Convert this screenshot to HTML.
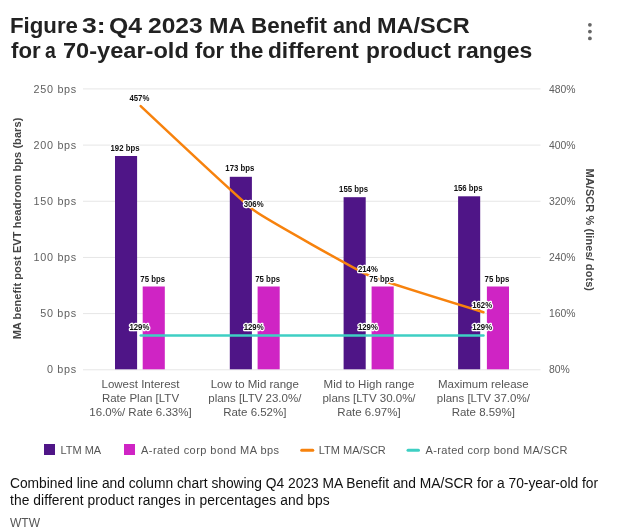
<!DOCTYPE html>
<html><head><meta charset="utf-8">
<style>
html,body{margin:0;padding:0;background:#fff;}
body{width:624px;height:529px;position:relative;overflow:hidden;font-family:"Liberation Sans",sans-serif;}
.title{position:absolute;left:0;top:0;font-weight:bold;font-size:22px;line-height:25px;color:#222;white-space:nowrap}
.title span{position:absolute;display:block;transform-origin:0 0;white-space:pre}
.cap{position:absolute;left:10px;top:475px;font-size:13.8px;line-height:17px;color:#111;white-space:nowrap}
.src{position:absolute;left:10px;top:514.5px;font-size:12px;line-height:16px;color:#555}
svg{position:absolute;left:0;top:0}
svg text{font-family:"Liberation Sans",sans-serif}
.yl{font-size:10.8px;fill:#606060;letter-spacing:0.7px}
.yr{font-size:10.4px;fill:#606060}
.xl{font-size:11.5px;fill:#555}
.dl{font-size:8.5px;font-weight:bold;fill:#111;stroke:#fff;stroke-width:2.6px;paint-order:stroke;stroke-linejoin:round}
.at{font-size:11px;font-weight:bold;fill:#444;letter-spacing:0.07px}
.lg{font-size:11px;fill:#555}
</style></head><body>
<div class="title"><span style="left:9.99px;top:13.1px;transform:scaleX(1.011)">Figure </span><span style="left:82.09px;top:13.1px;transform:scaleX(1.206)">3: </span><span style="left:109.17px;top:13.1px;transform:scaleX(1.125)">Q4 </span><span style="left:147.88px;top:13.1px;transform:scaleX(1.117)">2023 </span><span style="left:209.44px;top:13.1px;transform:scaleX(1.059)">MA </span><span style="left:250.98px;top:13.1px;transform:scaleX(1.019)">Benefit </span><span style="left:333.12px;top:13.1px;transform:scaleX(0.984)">and </span><span style="left:376.93px;top:13.1px;transform:scaleX(1.067)">MA/SCR </span><span style="left:11.00px;top:38.0px;transform:scaleX(1.010)">for </span><span style="left:45.32px;top:38.0px;transform:scaleX(0.882)">a </span><span style="left:63.03px;top:38.0px;transform:scaleX(1.072)">70-year-old </span><span style="left:194.60px;top:38.0px;transform:scaleX(0.990)">for </span><span style="left:229.70px;top:38.0px;transform:scaleX(1.009)">the </span><span style="left:268.17px;top:38.0px;transform:scaleX(1.032)">different </span><span style="left:365.67px;top:38.0px;transform:scaleX(1.035)">product </span><span style="left:457.16px;top:38.0px;transform:scaleX(1.044)">ranges</span></div>
<svg width="624" height="529" viewBox="0 0 624 529">
<g fill="#666"><circle cx="589.9" cy="24.8" r="1.9"/><circle cx="589.9" cy="31.6" r="1.9"/><circle cx="589.9" cy="38.4" r="1.9"/></g>
<path stroke="#e6e6e6" stroke-width="1" fill="none" d="M83 369.80H540.5M83 313.62H540.5M83 257.44H540.5M83 201.26H540.5M83 145.08H540.5M83 88.90H540.5"/>
<g class="yl" text-anchor="end">
<text x="76.9" y="373.4">0 bps</text>
<text x="76.9" y="317.2">50 bps</text>
<text x="76.9" y="261.0">100 bps</text>
<text x="76.9" y="204.9">150 bps</text>
<text x="76.9" y="148.7">200 bps</text>
<text x="76.9" y="92.5">250 bps</text>
</g><g class="yr">
<text x="549" y="373.4">80%</text>
<text x="549" y="317.2">160%</text>
<text x="549" y="261.0">240%</text>
<text x="549" y="204.9">320%</text>
<text x="549" y="148.7">400%</text>
<text x="549" y="92.5">480%</text>
</g>
<text class="at" text-anchor="middle" transform="translate(21,228.5) rotate(-90)">MA benefit post EVT headroom bps (bars)</text>
<text class="at" text-anchor="middle" transform="translate(586.4,229.8) rotate(90)">MA/SCR % (lines/ dots)</text>
<g fill="#4f1587">
<rect x="115.0" y="156.0" width="22.1" height="213.3"/>
<rect x="229.8" y="176.8" width="22.1" height="192.5"/>
<rect x="343.6" y="197.2" width="22.1" height="172.1"/>
<rect x="458.1" y="196.3" width="22.1" height="173.0"/>
</g><g fill="#cf24c4">
<rect x="142.7" y="286.5" width="22.1" height="82.8"/>
<rect x="257.6" y="286.5" width="22.1" height="82.8"/>
<rect x="371.6" y="286.5" width="22.1" height="82.8"/>
<rect x="486.9" y="286.5" width="22.1" height="82.8"/>
</g>
<path d="M140.72 106.05C140.72 106.05 242.51 201.84 254.97 211.09C265.51 218.92 357.22 270.39 369.23 275.70C380.19 280.55 483.48 312.22 483.48 312.22" fill="none" stroke="#f7820d" stroke-width="2.5" stroke-linecap="round" stroke-linejoin="round"/>
<path d="M140.72 335.39H483.48" fill="none" stroke="#3ecfc3" stroke-width="2.5" stroke-linecap="round"/>
<g class="dl" text-anchor="middle" transform="scale(0.92,1)">
<text x="151.5" y="100.6">457%</text>
<text x="275.7" y="207.0">306%</text>
<text x="399.9" y="272.2">214%</text>
<text x="524.1" y="308.0">162%</text>
<text x="151.5" y="330.2">129%</text>
<text x="275.7" y="330.2">129%</text>
<text x="399.9" y="330.2">129%</text>
<text x="524.1" y="330.2">129%</text>
<text x="135.9" y="151.5">192 bps</text>
<text x="260.7" y="170.9">173 bps</text>
<text x="384.4" y="191.6">155 bps</text>
<text x="508.9" y="191.1">156 bps</text>
<text x="166.0" y="282.0">75 bps</text>
<text x="290.9" y="282.0">75 bps</text>
<text x="414.8" y="282.0">75 bps</text>
<text x="540.2" y="282.0">75 bps</text>
</g>
<g class="xl" text-anchor="middle">
<text x="140.5" y="387.7">Lowest Interest</text>
<text x="140.5" y="401.6">Rate Plan [LTV</text>
<text x="140.5" y="415.5">16.0%/ Rate 6.33%]</text>
<text x="254.8" y="387.7">Low to Mid range</text>
<text x="254.8" y="401.6">plans [LTV 23.0%/</text>
<text x="254.8" y="415.5">Rate 6.52%]</text>
<text x="369.0" y="387.7">Mid to High range</text>
<text x="369.0" y="401.6">plans [LTV 30.0%/</text>
<text x="369.0" y="415.5">Rate 6.97%]</text>
<text x="483.3" y="387.7">Maximum release</text>
<text x="483.3" y="401.6">plans [LTV 37.0%/</text>
<text x="483.3" y="415.5">Rate 8.59%]</text>
</g>
<rect x="44" y="444" width="11" height="11" fill="#4f1587"/><text class="lg" x="60.4" y="454">LTM MA</text>
<rect x="124" y="444" width="11" height="11" fill="#cf24c4"/><text class="lg" x="141" y="454" textLength="138" lengthAdjust="spacing">A-rated corp bond MA bps</text>
<path d="M301.7 450.2H312.8" stroke="#f7820d" stroke-width="3" stroke-linecap="round"/><text class="lg" x="318.8" y="454">LTM MA/SCR</text>
<path d="M408 450.2H418.5" stroke="#3ecfc3" stroke-width="3" stroke-linecap="round"/><text class="lg" x="425.6" y="454" textLength="141.8" lengthAdjust="spacing">A-rated corp bond MA/SCR</text>
</svg>
<div class="cap"><span style="letter-spacing:-0.01px">Combined line and column chart showing Q4 2023 MA Benefit and MA/SCR for a 70-year-old for</span><br><span style="letter-spacing:0.08px">the different product ranges in percentages and bps</span></div>
<div class="src">WTW</div>
</body></html>
